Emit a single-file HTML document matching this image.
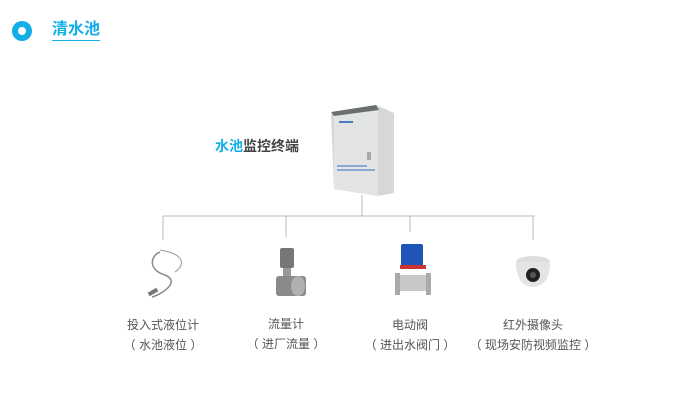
<!DOCTYPE html>
<html><head><meta charset="utf-8"><style>
body{margin:0;width:700px;height:403px;background:#fff;position:relative;overflow:hidden;font-family:"Liberation Sans","Noto Sans CJK SC",sans-serif}
.a{position:absolute}
.lbl{position:absolute;width:160px;text-align:center;font-size:12px;color:#555;line-height:20px}
</style></head><body>
<div class="a" style="left:12px;top:21px;width:20px;height:20px;border-radius:50%;background:#11aee8"></div>
<div class="a" style="left:18px;top:27px;width:8px;height:8px;border-radius:50%;background:#fff"></div>
<div class="a" style="left:52px;top:20px;font-size:16px;font-weight:bold;color:#11aee8;line-height:20px;border-bottom:1px solid #11aee8">清水池</div>
<div class="a" style="left:215px;top:137px;font-size:14px;font-weight:bold;color:#444;line-height:18px"><span style="color:#11aee8">水池</span>监控终端</div>
<svg class="a" style="left:0;top:0" width="700" height="403">
<g stroke="#bbb" stroke-width="1" fill="none">
<line x1="362" y1="195" x2="362" y2="216"/>
<line x1="163" y1="216" x2="535" y2="216"/>
<line x1="163" y1="216" x2="163" y2="240"/>
<line x1="286" y1="216" x2="286" y2="237"/>
<line x1="410" y1="216" x2="410" y2="232"/>
<line x1="533" y1="216" x2="533" y2="240"/>
</g>
<!-- cabinet -->
<polygon points="331,114 376,105 394,113 394,193 378,196 334,189" fill="#d6d8d8"/>
<polygon points="334,114 378,110 378,196 334,189" fill="#e3e5e4"/>
<polygon points="331,112 376,105 379,110 334,116" fill="#6b6f70"/>
<rect x="339" y="121" width="14" height="2" fill="#4a7cc0"/>
<rect x="337" y="165" width="30" height="2" fill="#8aa8d0"/>
<rect x="337" y="169" width="38" height="2" fill="#8aa8d0"/>
<rect x="367" y="152" width="4" height="8" fill="#aaa"/>
<!-- probe -->
<path d="M160,252 C150,256 148,270 165,275 C182,282 160,295 152,297" stroke="#888" stroke-width="1.5" fill="none"/>
<path d="M160,250 C190,255 182,268 175,272" stroke="#999" stroke-width="1" fill="none"/>
<rect x="148" y="290" width="10" height="4" fill="#777" transform="rotate(-30 153 292)"/>
<!-- flowmeter -->
<rect x="280" y="248" width="14" height="20" fill="#777" rx="2"/>
<rect x="283" y="268" width="8" height="10" fill="#999"/>
<rect x="276" y="276" width="30" height="20" fill="#8c8a88" rx="3"/>
<ellipse cx="298" cy="286" rx="7" ry="10" fill="#b0b0b0"/>
<!-- valve -->
<rect x="401" y="244" width="22" height="25" fill="#1f56b8" rx="2"/>
<rect x="400" y="265" width="26" height="4" fill="#c33"/>
<rect x="398" y="275" width="32" height="16" fill="#c8c8c8"/>
<rect x="395" y="273" width="5" height="22" fill="#aaa"/>
<rect x="426" y="273" width="5" height="22" fill="#aaa"/>
<!-- camera -->
<ellipse cx="533" cy="262" rx="17" ry="6" fill="#ddd"/>
<path d="M516,262 Q516,286 533,287 Q550,286 550,262 Z" fill="#e4e4e4"/>
<circle cx="533" cy="275" r="7" fill="#222"/>
<circle cx="533" cy="275" r="3" fill="#555"/>
</svg>
<div class="lbl" style="left:83px;top:315px">投入式液位计<br>（ 水池液位 ）</div>
<div class="lbl" style="left:206px;top:314px">流量计<br>（ 进厂流量 ）</div>
<div class="lbl" style="left:330px;top:315px">电动阀<br>（ 进出水阀门 ）</div>
<div class="lbl" style="left:453px;top:315px">红外摄像头<br>（ 现场安防视频监控 ）</div>
</body></html>
